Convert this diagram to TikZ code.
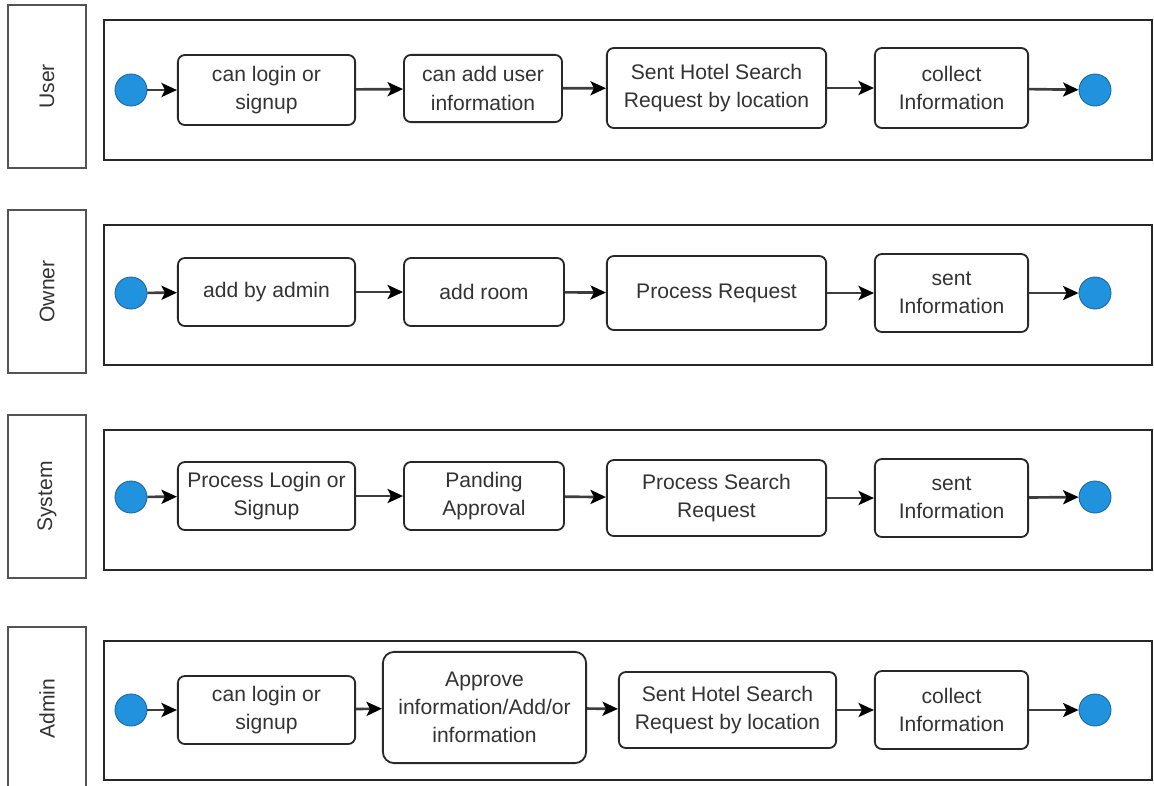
\documentclass[tikz,border=0pt]{standalone}
\usepackage{fontspec}
\setmainfont{Liberation Sans}
\usepackage{tikz}
\usetikzlibrary{positioning,arrows.meta,calc}
\definecolor{startblue}{RGB}{33,146,221}
\definecolor{linegray}{RGB}{40,40,40}

\begin{document}
\begin{tikzpicture}[x=0.025cm, y=-0.025cm, font=\fontsize{15}{20}\selectfont,
	act/.style={draw=linegray, line width=1.3pt, rounded corners=5pt, fill=white, align=center, inner sep=1pt, text=black!80},
	dot/.style={draw=startblue!70!black, line width=0.6pt, circle, fill=startblue, minimum size=0.8cm, inner sep=0pt},
	lanebox/.style={draw=linegray, line width=1.5pt},
	lanelabel/.style={draw=linegray!80, line width=1.8pt, rotate=90, minimum width=4.08cm, minimum height=1.95cm, inner sep=0pt, text=black!80},
	flow/.style={draw=linegray!90, line width=1.9pt, -{Stealth[length=11pt, width=10pt, inset=2.5pt, color=black]}}]
	\useasboundingbox (0,0) rectangle (1154,785);
	%user
	\node(l1)[lanelabel] at (47,86.5) {User};
	\draw[lanebox] (104,20) rectangle (1152,160);
	\node(u0)[dot] at (131,90) {};
	\node(u1)[act, minimum width=4.43cm, minimum height=1.75cm] at (266.5,90) {can login or\\signup};
	\node(u2)[act, minimum width=3.95cm, minimum height=1.68cm] at (483,88.5) {can add user\\information};
	\node(u3)[act, minimum width=5.48cm, minimum height=2cm] at (716.5,88) {Sent Hotel Search\\Request by location};
	\node(u4)[act, minimum width=3.83cm, minimum height=2cm] at (951.5,88) {collect\\Information};
	\node(u5)[dot] at (1095,90) {};
	\draw[flow] (u0) -- (u1);
	\draw[flow] (u1) -- (u2);
	\draw[flow] (u2) -- (u3);
	\draw[flow] (u3) -- (u4);
	\draw[flow] (u4) -- (u5);
	%owner
	\node(l2)[lanelabel] at (47,291.5) {Owner};
	\draw[lanebox] (104,225) rectangle (1152,365);
	\node(o0)[dot] at (131,293) {};
	\node(o1)[act, minimum width=4.43cm, minimum height=1.7cm] at (266.5,292) {add by admin};
	\node(o2)[act, minimum width=4cm, minimum height=1.7cm] at (484,292) {add room};
	\node(o3)[act, minimum width=5.48cm, minimum height=1.85cm] at (716.5,293) {Process Request};
	\node(o4)[act, minimum width=3.83cm, minimum height=1.95cm] at (951.5,293) {sent\\Information};
	\node(o5)[dot] at (1095,293) {};
	\draw[flow] (o0) -- (o1);
	\draw[flow] (o1) -- (o2);
	\draw[flow] (o2) -- (o3);
	\draw[flow] (o3) -- (o4);
	\draw[flow] (o4) -- (o5);
	%system
	\node(l3)[lanelabel] at (47,496.5) {System};
	\draw[lanebox] (104,430) rectangle (1152,570);
	\node(s0)[dot] at (131,497) {};
	\node(s1)[act, minimum width=4.43cm, minimum height=1.7cm] at (266.5,496) {Process Login or\\Signup};
	\node(s2)[act, minimum width=4cm, minimum height=1.7cm] at (484,496) {Panding\\Approval};
	\node(s3)[act, minimum width=5.48cm, minimum height=1.9cm] at (716.5,498) {Process Search\\Request};
	\node(s4)[act, minimum width=3.83cm, minimum height=1.95cm] at (951.5,498) {sent\\Information};
	\node(s5)[dot] at (1095,497) {};
	\draw[flow] (s0) -- (s1);
	\draw[flow] (s1) -- (s2);
	\draw[flow] (s2) -- (s3);
	\draw[flow] (s3) -- (s4);
	\draw[flow] (s4) -- (s5);
	%admin
	\node(l4)[lanelabel] at (47,708.5) {Admin};
	\draw[lanebox] (104,641) rectangle (1152,780);
	\node(a0)[dot] at (131,710) {};
	\node(a1)[act, minimum width=4.43cm, minimum height=1.7cm] at (266.5,710) {can login or\\signup};
	\node(a2)[act, minimum width=5.08cm, minimum height=2.78cm, rounded corners=8pt] at (484.5,707.5) {Approve\\information/Add/or\\information};
	\node(a3)[act, minimum width=5.43cm, minimum height=1.9cm] at (727.5,710) {Sent Hotel Search\\Request by location};
	\node(a4)[act, minimum width=3.83cm, minimum height=1.95cm] at (951.5,710) {collect\\Information};
	\node(a5)[dot] at (1095,710) {};
	\draw[flow] (a0) -- (a1);
	\draw[flow] (a1) -- (a2);
	\draw[flow] (a2) -- (a3);
	\draw[flow] (a3) -- (a4);
	\draw[flow] (a4) -- (a5);
\end{tikzpicture}
\end{document}
